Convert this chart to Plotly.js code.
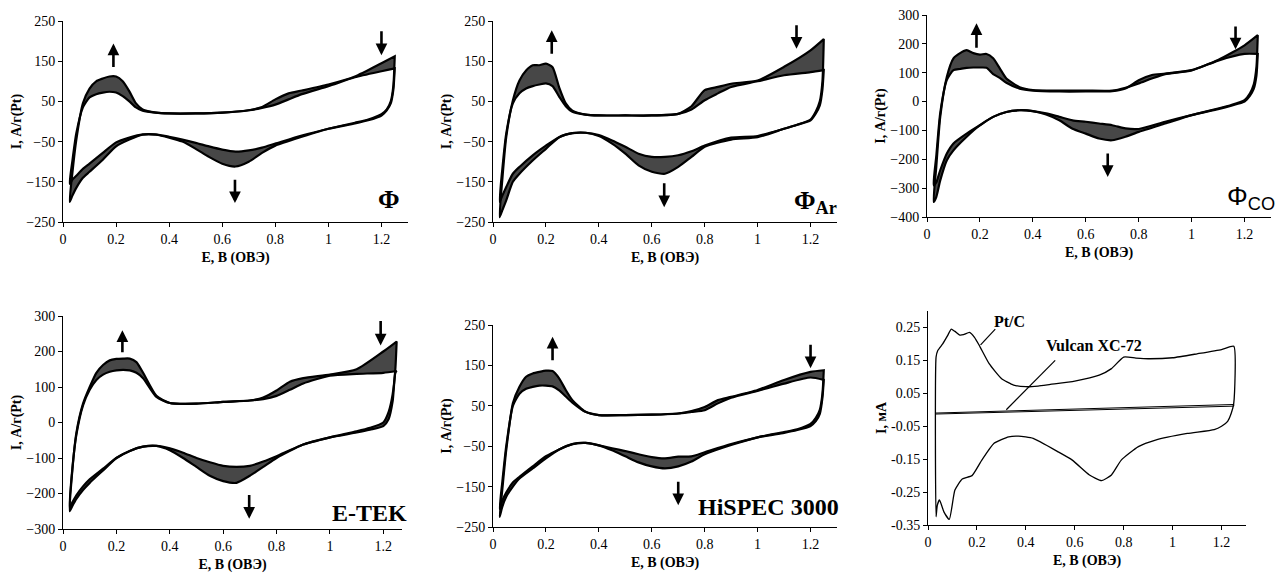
<!DOCTYPE html>
<html>
<head>
<meta charset="utf-8">
<script src="https://cdn.plot.ly/plotly-3.0.1.min.js"></script>
<style>html,body{margin:0;padding:0;background:#fff;}#chart{width:1288px;height:577px;}</style>
</head>
<body>
<div id="chart"></div>
<script>
// Potential grids (V vs RHE): anodic sweep and cathodic sweep
const E_UP = [0.025, 0.035, 0.05, 0.075, 0.1, 0.125, 0.15, 0.175, 0.2, 0.225, 0.25, 0.275, 0.3, 0.35, 0.4, 0.5, 0.6, 0.7, 0.75, 0.8, 0.85, 0.9, 1.0, 1.1, 1.2, 1.25];
const E_DOWN = [1.25, 1.245, 1.235, 1.22, 1.2, 1.15, 1.1, 1.0, 0.9, 0.8, 0.75, 0.7, 0.65, 0.6, 0.55, 0.5, 0.45, 0.4, 0.35, 0.3, 0.25, 0.2, 0.15, 0.1, 0.075, 0.05, 0.035, 0.025];

// Φ : first and last cycles
const PHI_FIRST_UP = [-155, -100, -30, 35, 60, 68, 72, 74, 72, 63, 50, 35, 27, 22, 20, 20, 22, 28, 36, 55, 70, 77, 92, 112, 145, 162];
const PHI_FIRST_DOWN = [162, 90, 50, 30, 18, 5, -3, -18, -35, -55, -65, -72, -75, -70, -62, -53, -45, -38, -32, -32, -40, -52, -78, -105, -118, -135, -145, -155];
const PHI_LAST_UP = [-200, -130, -46, 45, 82, 100, 107, 112, 112, 100, 75, 45, 30, 22, 20, 20, 22, 28, 34, 42, 55, 68, 88, 110, 125, 132];
const PHI_LAST_DOWN = [132, 80, 45, 28, 15, 3, -5, -18, -38, -60, -78, -100, -112, -105, -88, -68, -50, -40, -33, -33, -45, -62, -95, -125, -140, -165, -185, -200];

// Φ_Ar
const PHIAR_FIRST_UP = [-200, -120, -30, 45, 70, 82, 88, 92, 95, 88, 62, 38, 24, 17, 15, 15, 15, 19, 38, 78, 86, 94, 102, 136, 177, 205];
const PHIAR_FIRST_DOWN = [205, 100, 50, 25, 5, -8, -18, -36, -40, -60, -74, -84, -88, -88, -80, -63, -47, -34, -28, -29, -39, -60, -84, -113, -130, -163, -185, -200];
const PHIAR_LAST_UP = [-238, -146, -39, 52, 102, 127, 140, 140, 144, 135, 85, 45, 27, 17, 15, 15, 15, 19, 30, 53, 70, 86, 100, 115, 123, 128];
const PHIAR_LAST_DOWN = [128, 80, 40, 20, 3, -8, -18, -39, -45, -63, -88, -113, -130, -125, -109, -80, -55, -36, -28, -29, -39, -68, -97, -130, -150, -196, -221, -238];

// Φ_CO
const PHICO_FIRST_UP = [-290, -190, -40, 75, 109, 113, 117, 118, 118, 117, 95, 82, 65, 45, 38, 35, 35, 36, 45, 74, 92, 97, 109, 144, 195, 230];
const PHICO_FIRST_DOWN = [230, 120, 60, 28, 5, -12, -24, -47, -70, -95, -93, -82, -76, -70, -65, -53, -41, -33, -30, -36, -53, -82, -111, -145, -180, -238, -280, -290];
const PHICO_LAST_UP = [-348, -227, -53, 86, 150, 168, 178, 168, 163, 165, 150, 115, 80, 50, 40, 38, 38, 38, 48, 63, 80, 95, 108, 142, 165, 165];
const PHICO_LAST_DOWN = [165, 90, 45, 20, 0, -14, -26, -47, -76, -105, -122, -134, -128, -111, -94, -65, -45, -33, -30, -36, -53, -82, -122, -169, -203, -273, -331, -348];

// E-TEK
const ETEK_FIRST_UP = [-240, -130, -35, 48, 92, 120, 135, 143, 147, 148, 147, 140, 125, 72, 55, 53, 58, 62, 70, 90, 115, 125, 135, 150, 200, 228];
const ETEK_FIRST_DOWN = [228, 150, 80, 30, 0, -15, -25, -42, -62, -95, -110, -122, -125, -122, -112, -100, -85, -73, -66, -68, -80, -100, -130, -160, -180, -205, -225, -240];
const ETEK_LAST_UP = [-250, -135, -30, 53, 100, 140, 162, 175, 179, 180, 180, 170, 140, 75, 55, 53, 58, 62, 66, 75, 92, 110, 132, 137, 140, 145];
const ETEK_LAST_DOWN = [145, 140, 60, 10, -10, -20, -28, -42, -62, -100, -125, -150, -170, -165, -150, -125, -100, -78, -66, -68, -80, -100, -135, -170, -190, -215, -235, -250];

// HiSPEC 3000
const HISPEC_FIRST_UP = [-205, -140, -50, 50, 80, 92, 97, 100, 100, 98, 88, 73, 58, 35, 27, 27, 28, 31, 37, 47, 64, 72, 89, 114, 134, 138];
const HISPEC_FIRST_DOWN = [138, 80, 40, 20, 5, -8, -15, -28, -45, -65, -75, -76, -80, -77, -70, -62, -55, -48, -42, -45, -58, -75, -100, -126, -140, -165, -185, -205];
const HISPEC_LAST_UP = [-225, -159, -60, 56, 97, 122, 130, 134, 137, 136, 118, 89, 64, 35, 27, 27, 28, 31, 35, 39, 56, 70, 87, 105, 120, 114];
const HISPEC_LAST_DOWN = [114, 70, 30, 12, 0, -10, -17, -28, -47, -70, -88, -100, -105, -100, -90, -75, -60, -48, -42, -45, -58, -80, -105, -130, -150, -175, -200, -225];

// Pt/C and Vulcan XC-72 (mA)
const PTC_E = [0.033, 0.033, 0.04, 0.06, 0.08, 0.095, 0.11, 0.13, 0.145, 0.17, 0.19, 0.21, 0.25, 0.3, 0.35, 0.4, 0.45, 0.5, 0.6, 0.7, 0.75, 0.8, 0.85, 0.9, 1.0, 1.1, 1.2, 1.25, 1.25, 1.24, 1.225, 1.2, 1.17, 1.06, 0.93, 0.86, 0.79, 0.75, 0.71, 0.66, 0.59, 0.53, 0.43, 0.37, 0.33, 0.27, 0.22, 0.18, 0.14, 0.11, 0.087, 0.065, 0.047, 0.038, 0.033];
const PTC_I = [-0.325, 0.16, 0.18, 0.2, 0.225, 0.245, 0.238, 0.227, 0.228, 0.235, 0.22, 0.195, 0.14, 0.095, 0.075, 0.07, 0.072, 0.077, 0.087, 0.105, 0.125, 0.16, 0.157, 0.155, 0.158, 0.17, 0.183, 0.193, 0.02, -0.01, -0.035, -0.05, -0.06, -0.072, -0.092, -0.112, -0.153, -0.198, -0.215, -0.198, -0.153, -0.127, -0.087, -0.08, -0.082, -0.102, -0.153, -0.2, -0.21, -0.244, -0.333, -0.31, -0.274, -0.29, -0.325];
const VUL_E = [0.03, 1.25, 1.25, 0.03];
const VUL_I = [-0.010, 0.016, 0.011, -0.013];

const Y_TICKS_250 = [-250, -150, -50, 50, 150, 250];
const Y_TICKS_PTC = [-0.35, -0.25, -0.15, -0.05, 0.05, 0.15, 0.25];
const Y_TICKTEXT_PTC = ['-0.35', '-0.25', '-0.15', '-0.05', '0.05', '0.15', '0.25'];

const X_TITLE = 'E, В (ОВЭ)';
const Y_TITLE = 'I, А/г(Pt)';
const Y_TITLE_MA = 'I, мА';

const SERIF = "'Liberation Serif', 'Times New Roman', serif";
const SANS = "'Liberation Sans', Arial, sans-serif";

const traces = [];
function band(n, fu, fd, lu, ld) {
  const xa = n === 1 ? 'x' : 'x' + n, ya = n === 1 ? 'y' : 'y' + n;
  const xs = E_UP.concat(E_DOWN);
  const ln = {color: '#000', width: 2.2, shape: 'spline', smoothing: 0.6};
  traces.push({x: xs, y: fu.concat(fd), xaxis: xa, yaxis: ya, mode: 'lines', line: ln, hoverinfo: 'skip'});
  traces.push({x: xs, y: lu.concat(ld), xaxis: xa, yaxis: ya, mode: 'lines', line: ln, fill: 'tonexty', fillcolor: 'rgba(0,0,0,0.72)', hoverinfo: 'skip'});
}
band(1, PHI_FIRST_UP, PHI_FIRST_DOWN, PHI_LAST_UP, PHI_LAST_DOWN);
band(2, PHIAR_FIRST_UP, PHIAR_FIRST_DOWN, PHIAR_LAST_UP, PHIAR_LAST_DOWN);
band(3, PHICO_FIRST_UP, PHICO_FIRST_DOWN, PHICO_LAST_UP, PHICO_LAST_DOWN);
band(4, ETEK_FIRST_UP, ETEK_FIRST_DOWN, ETEK_LAST_UP, ETEK_LAST_DOWN);
band(5, HISPEC_FIRST_UP, HISPEC_FIRST_DOWN, HISPEC_LAST_UP, HISPEC_LAST_DOWN);
traces.push({x: PTC_E, y: PTC_I, xaxis: 'x6', yaxis: 'y6', mode: 'lines', line: {color: '#000', width: 1.3, shape: 'spline', smoothing: 0.5}, hoverinfo: 'skip'});
traces.push({x: VUL_E, y: VUL_I, xaxis: 'x6', yaxis: 'y6', mode: 'lines', line: {color: '#000', width: 1}, hoverinfo: 'skip'});

const W = 1288, H = 577;
function dx(a, b) { return [a / W, b / W]; }
function dy(top, bot) { return [1 - bot / H, 1 - top / H]; }
const tickFont = {family: SERIF, size: 14, color: '#000'};
const titleFont = {family: SERIF, size: 14, color: '#000', weight: 'bold'};
function xax(dom, anchor, range) {
  return {domain: dom, anchor: anchor, range: range, tick0: 0, dtick: 0.2, showline: true, linecolor: '#000', linewidth: 1,
    ticks: 'outside', ticklen: 4, tickcolor: '#000', showgrid: false, zeroline: false, tickfont: tickFont,
    title: {text: '<b>' + X_TITLE + '</b>', font: titleFont, standoff: 6}, automargin: false, fixedrange: true};
}
function yax(dom, anchor, range, tickvals, ticktext, title) {
  const o = {domain: dom, anchor: anchor, range: range, showline: true, linecolor: '#000', linewidth: 1,
    ticks: 'outside', ticklen: 4, tickcolor: '#000', showgrid: false, zeroline: false, tickfont: tickFont,
    title: {text: '<b>' + title + '</b>', font: titleFont, standoff: 1}, automargin: false, fixedrange: true};
  if (tickvals) { o.tickmode = 'array'; o.tickvals = tickvals; if (ticktext) o.ticktext = ticktext; }
  else { o.dtick = 100; o.tick0 = 0; }
  return o;
}

const layout = {
  width: W, height: H, margin: {l: 0, r: 0, t: 0, b: 0}, paper_bgcolor: '#fff', plot_bgcolor: '#fff',
  showlegend: false, hovermode: false,
  xaxis: xax(dx(63, 408), 'y', [0, 1.3]),
  yaxis: yax(dy(21, 222), 'x', [-250, 250], Y_TICKS_250, null, Y_TITLE),
  xaxis2: xax(dx(493, 837), 'y2', [0, 1.3]),
  yaxis2: yax(dy(21, 222), 'x2', [-250, 250], Y_TICKS_250, null, Y_TITLE),
  xaxis3: xax(dx(927, 1271), 'y3', [0, 1.3]),
  yaxis3: yax(dy(15, 217), 'x3', [-400, 300], null, null, Y_TITLE),
  xaxis4: xax(dx(63, 402), 'y4', [0, 1.27]),
  yaxis4: yax(dy(316, 529), 'x4', [-300, 300], null, null, Y_TITLE),
  xaxis5: xax(dx(493, 837), 'y5', [0, 1.3]),
  yaxis5: yax(dy(325, 527), 'x5', [-250, 250], Y_TICKS_250, null, Y_TITLE),
  xaxis6: xax(dx(928, 1246), 'y6', [0, 1.3]),
  yaxis6: yax(dy(311, 525), 'x6', [-0.35, 0.3], Y_TICKS_PTC, Y_TICKTEXT_PTC, Y_TITLE_MA),
  annotations: [], shapes: []
};

function arrow(n, x, yTail, yHead) {
  const xa = n === 1 ? 'x' : 'x' + n, ya = n === 1 ? 'y' : 'y' + n;
  layout.annotations.push({xref: xa, yref: ya, axref: xa, ayref: ya, x: x, y: yHead, ax: x, ay: yTail, text: '',
    showarrow: true, arrowhead: 2, arrowsize: 0.9, arrowwidth: 2.6, arrowcolor: '#000'});
}
arrow(1, 0.19, 132, 194); arrow(1, 1.2, 228, 165); arrow(1, 0.648, -141, -203);
arrow(2, 0.222, 165, 227); arrow(2, 1.147, 243, 181); arrow(2, 0.647, -150, -213);
arrow(3, 0.187, 181, 271); arrow(3, 1.166, 265, 181); arrow(3, 0.683, -175, -261);
arrow(4, 0.2225, 194, 260); arrow(4, 1.19, 290, 217); arrow(4, 0.6975, -200, -271);
arrow(5, 0.225, 159, 221); arrow(5, 1.2, 205, 143); arrow(5, 0.70, -134, -196);

function label(n, x, y, text, font) {
  const xa = n === 1 ? 'x' : 'x' + n, ya = n === 1 ? 'y' : 'y' + n;
  layout.annotations.push({xref: xa, yref: ya, x: x, y: y, text: text, showarrow: false, font: font, xanchor: 'center', yanchor: 'middle'});
}
const serifBold = s => ({family: SERIF, size: s, color: '#000', weight: 'bold'});
label(1, 1.228, -195, '<b>Φ</b>', serifBold(26));
label(2, 1.22, -200, '<b>Φ<sub>Ar</sub></b>', serifBold(26));
label(3, 1.225, -331, 'Φ<sub>CO</sub>', {family: SANS, size: 26, color: '#000'});
label(4, 1.15, -255, '<b>E-TEK</b>', serifBold(24));
label(5, 1.04, -200, '<b>HiSPEC 3000</b>', serifBold(24));
label(6, 0.335, 0.268, '<b>Pt/C</b>', serifBold(16));
label(6, 0.68, 0.195, '<b>Vulcan XC-72</b>', serifBold(16));

layout.shapes.push({type: 'line', xref: 'x6', yref: 'y6', x0: 0.275, y0: 0.245, x1: 0.215, y1: 0.197, line: {color: '#000', width: 1.2}});
layout.shapes.push({type: 'line', xref: 'x6', yref: 'y6', x0: 0.52, y0: 0.15, x1: 0.32, y1: 0.0, line: {color: '#000', width: 1.2}});

Plotly.newPlot('chart', traces, layout, {staticPlot: true, displayModeBar: false});
</script>
</body>
</html>
